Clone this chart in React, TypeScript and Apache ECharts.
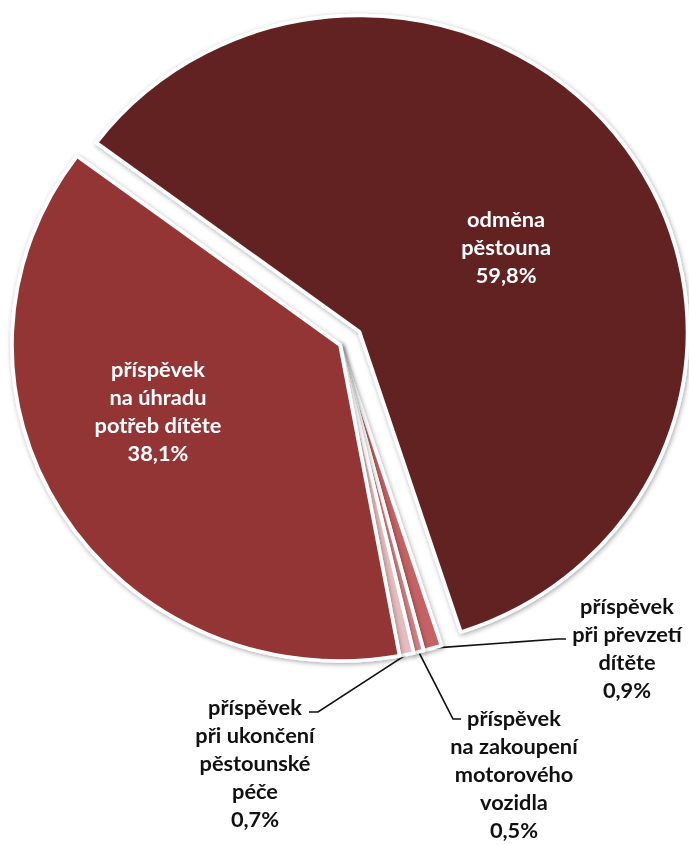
import React, { useEffect, useRef } from 'react';
import * as echarts from 'echarts';

// Categories (clockwise order, starting with the exploded slice)
const categories = [
  'odměna\npěstouna',
  'příspěvek\npři převzetí\ndítěte',
  'příspěvek\nna zakoupení\nmotorového\nvozidla',
  'příspěvek\npři ukončení\npěstounské\npéče',
  'příspěvek\nna úhradu\npotřeb dítěte',
];
// Shares in percent
const shares = [59.8, 0.9, 0.5, 0.7, 38.1];
const sliceColors = ['#632223', '#c56263', '#d38485', '#e6bdbe', '#933535'];
const insideLabel = [true, false, false, false, true];
const explodedIndex = 0;

// the reference pie is slightly wider than tall
const STRETCH = 1.038;
const W = 689;
const H = 845;

export default function App() {
  const ref = useRef<HTMLDivElement>(null);
  useEffect(() => {
    document.body.style.margin = '0';
    if (!ref.current) return;
    const chart = echarts.init(ref.current, undefined, { renderer: 'svg' });

    const sx = (x: number) => x / STRETCH;
    // label block centres and leader-line bends (layout only, page pixels)
    const labelCenters: (number[] | null)[] = [
      null,
      [sx(627), 648],
      [sx(514), 774],
      [sx(255), 763],
      [sx(158), 411],
    ];
    const leaderBends: (number[][] | null)[] = [
      null,
      [[sx(558), 639], [sx(566), 639]],
      [[sx(453), 719], [sx(461), 719]],
      [[sx(318), 712], [sx(309), 712]],
      null,
    ];

    const fmt = (v: number) => `${Number(v).toFixed(1).replace('.', ',')}%`;

    const data = categories.map((name, i) => ({
      name,
      value: shares[i],
      selected: i === explodedIndex,
      itemStyle: { color: sliceColors[i] },
      label: insideLabel[i]
        ? {
            position: 'inside',
            color: '#ffffff',
            padding: i === explodedIndex ? [0, 0, 0, 21] : 0,
          }
        : { position: 'outside', color: '#111111' },
      labelLine: { show: !insideLabel[i] },
    }));

    chart.setOption({
      animation: false,
      backgroundColor: '#ffffff',
      series: [
        {
          type: 'pie',
          center: [sx(340), 345],
          radius: [0, 316],
          startAngle: 143.3,
          clockwise: true,
          avoidLabelOverlap: false,
          selectedMode: 'single',
          selectedOffset: 23,
          emphasis: { disabled: true },
          itemStyle: {
            borderColor: '#ffffff',
            borderWidth: 3.5,
            shadowBlur: 5,
            shadowOffsetX: 1,
            shadowOffsetY: 1.5,
            shadowColor: 'rgba(0,0,0,0.35)',
          },
          label: {
            show: true,
            fontFamily: 'Lato',
            fontWeight: 'bold',
            fontSize: 21,
            lineHeight: 28,
            align: 'center',
            rich: {
              sp: { fontSize: 1, lineHeight: 18, height: 18 },
            },
            formatter: (p: any) =>
              (p.dataIndex === explodedIndex ? '{sp| }\n' : '') +
              `${p.name}\n${fmt(p.value)}`,
          },
          labelLine: {
            show: true,
            lineStyle: { color: '#111111', width: 1.6 },
          },
          labelLayout: (params: any) => {
            const i = params.dataIndex;
            const c = labelCenters[i];
            if (!c) return {};
            const res: any = {
              x: c[0],
              y: c[1],
              align: 'center',
              verticalAlign: 'middle',
            };
            const bend = leaderBends[i];
            if (bend && params.labelLinePoints && params.labelLinePoints[0]) {
              res.labelLinePoints = [params.labelLinePoints[0], bend[0], bend[1]];
            }
            return res;
          },
          data,
        },
      ],
    });
    return () => chart.dispose();
  }, []);
  return (
    <div style={{ width: W, height: H, overflow: 'hidden' }}>
      <div
        ref={ref}
        style={{
          width: Math.round(W / STRETCH),
          height: H,
          transform: `scaleX(${STRETCH})`,
          transformOrigin: '0 0',
        }}
      />
    </div>
  );
}
